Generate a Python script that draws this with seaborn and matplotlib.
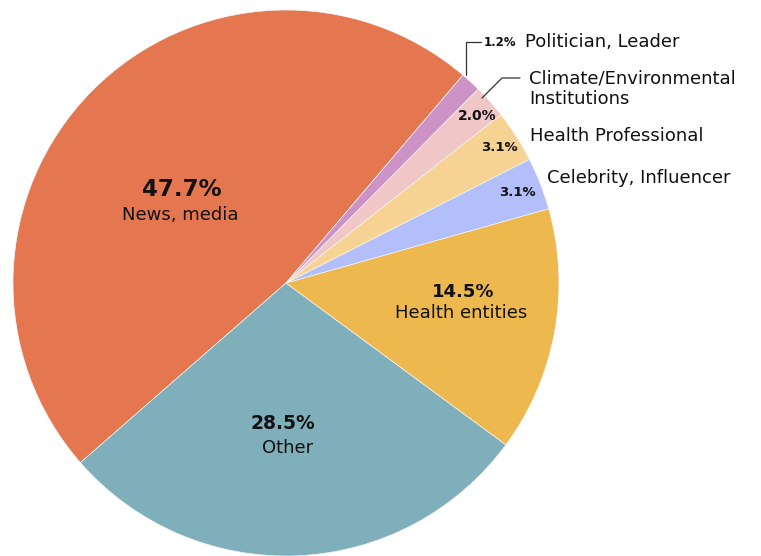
import matplotlib
matplotlib.use("Agg")
import matplotlib.pyplot as plt
import seaborn as sns

categories = ["News, media", "Other", "Health entities", "Celebrity, Influencer",
              "Health Professional", "Climate/Environmental\nInstitutions", "Politician, Leader"]
shares = [47.7, 28.5, 14.5, 3.1, 3.1, 2.0, 1.2]
colors = ["#E47650", "#80AFBC", "#EDB94F", "#B3BFFA", "#F7D393", "#F1C6C6", "#CE93C6"]

sns.set_theme(style="white")
plt.rcParams["font.family"] = ["DejaVu Sans"]

W, H, DPI = 761, 556, 100
CX, CY, R = 286, 283, 273

fig = plt.figure(figsize=(W / DPI, H / DPI), dpi=DPI)
ax = fig.add_axes([0, 0, 1, 1])

ax.pie(shares, colors=sns.color_palette(colors), startangle=49.6, counterclock=True,
       radius=1.0, center=(0, 0),
       wedgeprops=dict(linewidth=0.5, edgecolor="#f4f4f4"))

ax.set_xlim(-CX / R, (W - CX) / R)
ax.set_ylim(-(H - CY) / R, CY / R)
ax.set_aspect("equal")
ax.axis("off")


def px(x, y):
    """Convert pixel position on the canvas to data coordinates."""
    return (x - CX) / R, (CY - y) / R


ink = "#111111"

# labels inside the large slices
inside = [
    (0, (182, 190), (180, 215), 16.5, 13),
    (1, (283, 424), (288, 448), 13.5, 13),
    (2, (463, 292), (461, 313), 13, 13),
]
for i, pct_xy, name_xy, pct_size, name_size in inside:
    ax.text(*px(*pct_xy), f"{shares[i]:.1f}%", ha="center", va="center",
            fontsize=pct_size, fontweight="bold", color=ink)
    ax.text(*px(*name_xy), categories[i], ha="center", va="center",
            fontsize=name_size, color=ink)

# percentages on the thin slices
small_pct = [
    (3, (517, 193), 9.5),
    (4, (499, 148), 9.5),
    (5, (477, 116), 10),
]
for i, xy, size in small_pct:
    ax.text(*px(*xy), f"{shares[i]:.1f}%", ha="center", va="center",
            fontsize=size, fontweight="bold", color=ink)

# names for the thin slices, outside the pie
ax.text(*px(547, 178), categories[3], ha="left", va="center", fontsize=13, color=ink)
ax.text(*px(530, 136), categories[4], ha="left", va="center", fontsize=13, color=ink)
ax.text(*px(529, 89), categories[5], ha="left", va="center", fontsize=13, color=ink,
        linespacing=1.15)
ax.text(*px(484, 43), f"{shares[6]:.1f}%", ha="left", va="center",
        fontsize=8.5, fontweight="bold", color=ink)
ax.text(*px(525, 42), categories[6], ha="left", va="center", fontsize=13, color=ink)

# leader lines
lx, ly = zip(px(466, 75), px(466, 42), px(481, 42))
ax.plot(lx, ly, color="#333333", lw=0.9, solid_joinstyle="miter")
lx, ly = zip(px(482, 98), px(502, 78), px(520, 78))
ax.plot(lx, ly, color="#333333", lw=0.9)

fig.savefig("out.png", dpi=DPI, facecolor="white")
